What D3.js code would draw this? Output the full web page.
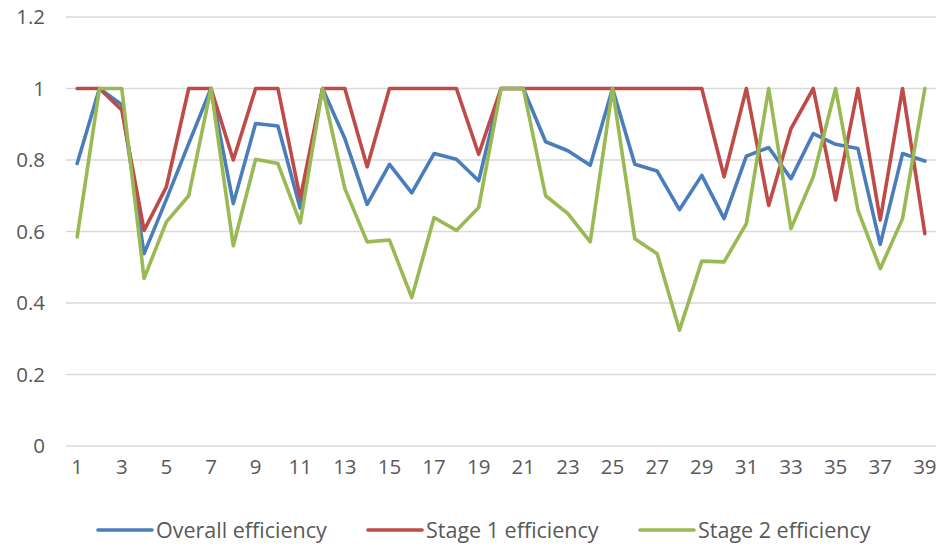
<!DOCTYPE html>
<html>
<head>
<meta charset="utf-8">
<script src="https://cdn.jsdelivr.net/npm/d3@7/dist/d3.min.js"></script>
<style>
  html, body { margin: 0; padding: 0; background: #fff; }
  svg { display: block; font-family: "Open Sans", "Noto Sans", sans-serif; }
</style>
</head>
<body>
<svg id="chart" width="940" height="547"></svg>
<script>
// Observation index 1..39
const categories = d3.range(1, 40);

const overallEfficiency = [
  0.79, 1.00, 0.955, 0.538, 0.69, 0.846, 1.00, 0.678, 0.902, 0.895,
  0.665, 1.00, 0.86, 0.676, 0.788, 0.708, 0.818, 0.802, 0.742, 1.00,
  1.00, 0.851, 0.826, 0.785, 1.00, 0.788, 0.769, 0.661, 0.757, 0.636,
  0.811, 0.835, 0.748, 0.874, 0.844, 0.832, 0.564, 0.818, 0.797
];

const stage1Efficiency = [
  1.00, 1.00, 0.94, 0.603, 0.725, 1.00, 1.00, 0.80, 1.00, 1.00,
  0.693, 1.00, 1.00, 0.781, 1.00, 1.00, 1.00, 1.00, 0.816, 1.00,
  1.00, 1.00, 1.00, 1.00, 1.00, 1.00, 1.00, 1.00, 1.00, 0.753,
  1.00, 0.673, 0.888, 1.00, 0.688, 1.00, 0.632, 1.00, 0.594
];

const stage2Efficiency = [
  0.585, 1.00, 1.00, 0.469, 0.627, 0.70, 1.00, 0.56, 0.802, 0.79,
  0.624, 1.00, 0.72, 0.571, 0.576, 0.415, 0.639, 0.603, 0.667, 1.00,
  1.00, 0.70, 0.65, 0.571, 1.00, 0.580, 0.538, 0.324, 0.517, 0.515,
  0.622, 1.00, 0.608, 0.753, 1.00, 0.66, 0.496, 0.636, 1.00
];

const yTicks = [0, 0.2, 0.4, 0.6, 0.8, 1, 1.2];
const xTickLabels = categories.filter(d => d % 2 === 1);

const seriesNames = ["Overall efficiency", "Stage 1 efficiency", "Stage 2 efficiency"];
const seriesColors = ["#4a7ebb", "#be4b48", "#98b954"];
const seriesData = [overallEfficiency, stage1Efficiency, stage2Efficiency];

const svg = d3.select("#chart");
const plot = { left: 66, right: 936, top: 17, bottom: 446 };
const tickFontSize = 20.5;
const legendFontSize = 21.5;

const x = d3.scaleBand()
  .domain(categories)
  .range([plot.left, plot.right])
  .padding(0);

const y = d3.scaleLinear()
  .domain([0, 1.2])
  .range([plot.bottom, plot.top]);

// Horizontal gridlines
svg.append("g")
  .selectAll("line")
  .data(yTicks)
  .join("line")
  .attr("x1", plot.left)
  .attr("x2", plot.right)
  .attr("y1", d => y(d))
  .attr("y2", d => y(d))
  .attr("stroke", "#d9d9d9")
  .attr("stroke-width", 1.5);

// Y axis labels
const yAxis = d3.axisLeft(y)
  .tickValues(yTicks)
  .tickFormat(d => d3.format("~g")(d))
  .tickSize(0)
  .tickPadding(21);
svg.append("g")
  .attr("transform", `translate(${plot.left},0)`)
  .call(yAxis)
  .call(g => g.select(".domain").remove())
  .selectAll("text")
  .attr("font-size", tickFontSize)
  .attr("font-family", "\"Open Sans\", sans-serif")
  .attr("fill", "#595959");

// X axis labels
const xAxis = d3.axisBottom(x)
  .tickValues(xTickLabels)
  .tickSize(0)
  .tickPadding(13);
svg.append("g")
  .attr("transform", `translate(0,${plot.bottom})`)
  .call(xAxis)
  .call(g => g.select(".domain").remove())
  .selectAll("text")
  .attr("font-size", tickFontSize)
  .attr("font-family", "\"Open Sans\", sans-serif")
  .attr("fill", "#595959");

// Series lines
const line = d3.line()
  .x((d, i) => x(categories[i]) + x.bandwidth() / 2)
  .y(d => y(d));

svg.append("g")
  .selectAll("path")
  .data(seriesData)
  .join("path")
  .attr("d", d => line(d))
  .attr("fill", "none")
  .attr("stroke", (d, i) => seriesColors[i])
  .attr("stroke-width", 3.6)
  .attr("stroke-linejoin", "round")
  .attr("stroke-linecap", "round");

// Legend
const legendItems = [
  { name: seriesNames[0], color: seriesColors[0], x: 98 },
  { name: seriesNames[1], color: seriesColors[1], x: 368 },
  { name: seriesNames[2], color: seriesColors[2], x: 640 }
];
const legend = svg.append("g").attr("transform", "translate(0,530)");
const item = legend.selectAll("g")
  .data(legendItems)
  .join("g")
  .attr("transform", d => `translate(${d.x},0)`);
item.append("line")
  .attr("x1", 0).attr("x2", 54)
  .attr("y1", 0).attr("y2", 0)
  .attr("stroke", d => d.color)
  .attr("stroke-width", 3.6)
  .attr("stroke-linecap", "round");
item.append("text")
  .attr("x", 58)
  .attr("y", 0)
  .attr("dy", "0.35em")
  .attr("font-size", legendFontSize)
  .attr("fill", "#595959")
  .text(d => d.name);
</script>
</body>
</html>
